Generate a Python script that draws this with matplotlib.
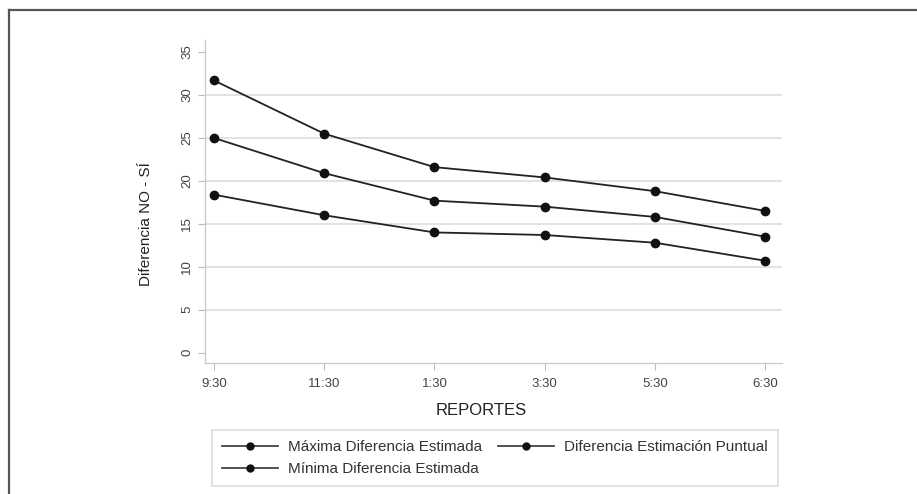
import matplotlib
matplotlib.use("Agg")
import matplotlib.pyplot as plt
from matplotlib.lines import Line2D

# data
reportes = ['9:30', '11:30', '1:30', '3:30', '5:30', '6:30']
maxima = [31.7, 25.5, 21.6, 20.4, 18.8, 16.5]
puntual = [25.0, 20.9, 17.7, 17.0, 15.8, 13.5]
minima = [18.4, 16.0, 14.0, 13.7, 12.8, 10.7]

W, H = 917, 494
fig = plt.figure(figsize=(W / 100, H / 100), dpi=100)
plt.rcParams['font.family'] = ['Liberation Sans', 'DejaVu Sans']

# outer frame (only top and left edges are drawn)
fig.add_artist(Line2D([9 / W, 1], [1 - 10 / H, 1 - 10 / H], color='#555555', lw=1.6))
fig.add_artist(Line2D([9 / W, 9 / W], [0, 1 - 10 / H], color='#555555', lw=1.6))

ax = fig.add_axes([205 / W, 1 - 363 / H, 577 / W, 323 / H])
x = range(len(reportes))

for serie in [maxima, puntual, minima]:
    ax.plot(x, serie, color='#222222', lw=1.3, marker='o', ms=6,
            markerfacecolor='#111111', markeredgecolor='#111111')

ax.set_xlim(-0.08, 5.15)
ax.set_ylim(-1.2, 36.4)
ax.set_yticks(range(0, 40, 5))
ax.set_xticks(list(x))
ax.set_xticklabels(reportes)

for v in range(5, 35, 5):
    ax.axhline(v, color='#dddddd', lw=1.2, zorder=0)

for s in ['top', 'right']:
    ax.spines[s].set_visible(False)
for s in ['left', 'bottom']:
    ax.spines[s].set_color('#cccccc')
    ax.spines[s].set_linewidth(1)

ax.tick_params(axis='both', colors='#bbbbbb', length=5, labelcolor='#444444', labelsize=9.5)
ax.tick_params(axis='x', pad=6)
for lbl in ax.get_yticklabels():
    lbl.set_rotation(90)
    lbl.set_va('center')

ax.set_ylabel('Diferencia NO - SÍ', fontsize=11, color='#222222')
ax.yaxis.set_label_coords(-0.09, 0.43)
ax.set_xlabel('REPORTES', fontsize=12, color='#222222')
ax.xaxis.set_label_coords(0.478, -0.124)

handles = [Line2D([], [], color='#444444', lw=1.3, marker='o', ms=5, markerfacecolor='#111111',
                  markeredgecolor='#111111') for _ in range(3)]
# ncol=2 fills column by column
labels = ['Máxima Diferencia Estimada', 'Mínima Diferencia Estimada', 'Diferencia Estimación Puntual']
leg = fig.legend(handles, labels, ncol=2, loc='upper left',
                 bbox_to_anchor=(212 / W, 1 - 430 / H),
                 fontsize=11, frameon=True, fancybox=False, edgecolor='#dddddd', framealpha=1,
                 handlelength=3.7, handletextpad=0.65, borderaxespad=0, borderpad=0.65,
                 labelspacing=0.55, columnspacing=1.0)
leg.get_frame().set_linewidth(1.2)
for t in leg.get_texts():
    t.set_color('#333333')

fig.savefig('out.png', dpi=100)
